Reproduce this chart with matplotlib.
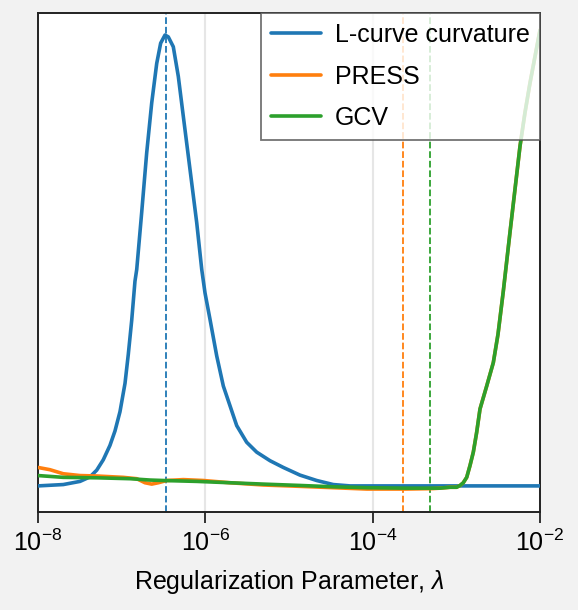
import numpy as np
import matplotlib
matplotlib.use("Agg")
import matplotlib.pyplot as plt

# ---- data (log10 of lambda, normalized criterion values) ----
blue_logx = [-8.0, -7.698, -7.498, -7.379, -7.298, -7.220, -7.140, -7.080,
             -7.020, -6.960, -6.921, -6.880, -6.841, -6.820, -6.761, -6.701,
             -6.641, -6.581, -6.534, -6.482, -6.443, -6.383, -6.323, -6.263,
             -6.183, -6.103, -6.043, -6.004, -5.944, -5.864, -5.785, -5.705,
             -5.625, -5.506, -5.386, -5.227, -5.068, -4.869, -4.669, -4.471,
             -4.271, -3.0, -2.0]
blue_vals = [0.0, 0.003, 0.010, 0.020, 0.035, 0.058, 0.090, 0.122,
             0.165, 0.228, 0.292, 0.368, 0.455, 0.481, 0.607, 0.740,
             0.851, 0.939, 0.984, 1.002, 0.998, 0.976, 0.910, 0.821,
             0.703, 0.585, 0.481, 0.429, 0.370, 0.289, 0.222, 0.178,
             0.134, 0.097, 0.075, 0.056, 0.041, 0.024, 0.012, 0.003,
             0.0, 0.0, 0.0]

press_logx = [-8.0, -7.857, -7.698, -7.498, -7.298, -6.980, -6.820, -6.721,
              -6.641, -6.562, -6.462, -6.263, -6.024, -5.705, -5.307, -4.869,
              -4.47, -4.07, -3.6, -3.28, -3.195, -3.076, -2.996, -2.956,
              -2.917, -2.876, -2.837, -2.797, -2.757, -2.717, -2.637, -2.558,
              -2.502, -2.439, -2.359, -2.299, -2.239, -2.180, -2.120, -2.060,
              -2.0]
press_vals = [0.041, 0.036, 0.027, 0.023, 0.022, 0.019, 0.016, 0.007,
              0.004, 0.007, 0.012, 0.014, 0.012, 0.007, 0.002, -0.001,
              -0.004, -0.007, -0.007, -0.006, -0.005, -0.003, -0.003, 0.001,
              0.007, 0.019, 0.045, 0.075, 0.119, 0.171, 0.222, 0.274,
              0.337, 0.432, 0.563, 0.659, 0.755, 0.829, 0.895, 0.954,
              1.013]

gcv_logx = [-8.0, -7.698, -7.298, -6.900, -6.661, -6.502, -6.103, -5.705,
            -5.307, -4.869, -4.47, -4.07, -3.6, -3.28, -3.195, -3.076,
            -2.996, -2.956, -2.917, -2.876, -2.837, -2.797, -2.757, -2.717,
            -2.637, -2.558, -2.502, -2.439, -2.359, -2.299, -2.239, -2.180,
            -2.120, -2.060, -2.0]
gcv_vals = [0.023, 0.019, 0.018, 0.016, 0.013, 0.012, 0.010, 0.007,
            0.004, 0.001, -0.002, -0.004, -0.005, -0.005, -0.005, -0.003,
            -0.003, 0.001, 0.007, 0.019, 0.045, 0.075, 0.119, 0.171,
            0.222, 0.274, 0.337, 0.432, 0.563, 0.659, 0.755, 0.829,
            0.895, 0.954, 1.013]

optimal_lambda = {"L-curve curvature": 3.4e-7, "PRESS": 2.3e-4, "GCV": 4.8e-4}
series_names = ["L-curve curvature", "PRESS", "GCV"]
colors = ["#1f77b4", "#ff7f0e", "#2ca02c"]
xticks = [1e-8, 1e-6, 1e-4, 1e-2]

plt.rcParams['font.family'] = ['Liberation Sans', 'DejaVu Sans']
plt.rcParams['mathtext.fontset'] = 'custom'
plt.rcParams['mathtext.rm'] = 'Liberation Sans'
plt.rcParams['mathtext.it'] = 'Liberation Sans:italic'

fig = plt.figure(figsize=(5.78, 6.10), dpi=100, facecolor='#f2f2f2')
ax = fig.add_axes([38/578, (610-512)/610, 502/578, 499/610])
ax.set_facecolor('white')

data = [(blue_logx, blue_vals), (press_logx, press_vals), (gcv_logx, gcv_vals)]
for name, (lx, v), c in zip(series_names, data, colors):
    ax.plot(10.0**np.array(lx), v, color=c, lw=2.6, label=name, zorder=3,
            solid_joinstyle='round', solid_capstyle='round')
for name, c in zip(series_names, colors):
    ax.axvline(optimal_lambda[name], color=c, lw=1.3, ls='--', zorder=2)

ax.set_xscale('log')
ax.set_xlim(1e-8, 1e-2)
ax.set_ylim(-0.058, 1.051)
ax.set_xticks(xticks)
ax.xaxis.set_minor_locator(matplotlib.ticker.NullLocator())
ax.set_yticks([])
ax.grid(True, axis='x', color='#e6e6e6', lw=1.5, zorder=0)
ax.set_axisbelow(True)
ax.tick_params(axis='x', length=8, width=1.3, labelsize=18, pad=5, color='#222222')
for s in ax.spines.values():
    s.set_linewidth(1.4)
    s.set_color('#222222')

ax.set_xlabel(r'Regularization Parameter, $\lambda$', fontsize=18, labelpad=8)

leg = ax.legend(loc='upper right', fontsize=18, frameon=True, fancybox=False,
                borderaxespad=0, handlelength=2.0, handletextpad=0.55,
                labelspacing=0.7, borderpad=0.4, framealpha=0.8)
leg.get_frame().set_edgecolor('#505050')
leg.get_frame().set_linewidth(1.3)
leg.set_zorder(5)

fig.savefig('out.png', dpi=100, facecolor=fig.get_facecolor())
